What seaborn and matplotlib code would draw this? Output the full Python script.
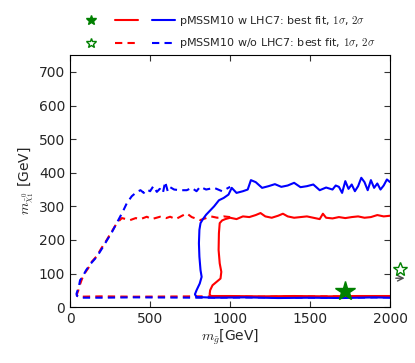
import matplotlib
matplotlib.use("Agg")
import matplotlib.pyplot as plt
import seaborn as sns
from matplotlib.lines import Line2D
from matplotlib.legend_handler import HandlerTuple

# contour paths (gluino mass, neutralino mass) in GeV
red_solid_x = [2000, 1960, 1920, 1880, 1840, 1800, 1760, 1720, 1680, 1640, 1600, 1580, 1560, 1520,
               1480, 1440, 1400, 1360, 1330, 1300, 1260, 1220, 1190, 1160, 1120, 1080, 1040, 1000,
               970, 950, 935, 930, 928, 935, 945, 940, 915, 890, 875, 872, 880, 1000, 1200, 1400,
               1600, 1800, 2000]
red_solid_y = [272, 270, 274, 268, 266, 270, 268, 265, 268, 264, 266, 278, 262, 266,
               270, 268, 266, 270, 278, 272, 266, 270, 280, 274, 268, 270, 262, 266,
               262, 258, 250, 220, 170, 130, 105, 85, 75, 65, 50, 38, 33, 33, 32, 33,
               32, 33, 33]

blue_solid_x = [2000, 1980, 1960, 1940, 1920, 1900, 1880, 1860, 1840, 1820, 1800, 1780, 1760, 1740,
                1720, 1700, 1680, 1660, 1640, 1600, 1560, 1520, 1480, 1440, 1400, 1360, 1320, 1280,
                1240, 1200, 1160, 1130, 1110, 1080, 1040, 1010, 990, 960, 930, 900, 870, 850, 830,
                815, 808, 805, 808, 815, 822, 810, 790, 780, 790, 900, 1100, 1300, 1500, 1700,
                1900, 2000]
blue_solid_y = [372, 380, 362, 350, 368, 355, 378, 348, 372, 385, 360, 345, 365, 352,
                375, 340, 358, 362, 350, 356, 348, 365, 360, 357, 370, 362, 358, 366,
                360, 355, 372, 378, 350, 345, 340, 355, 335, 325, 318, 300, 285, 275, 262,
                250, 230, 190, 150, 110, 90, 70, 50, 38, 30, 28, 29, 27, 28, 27,
                29, 28]

red_dash_x = [2000, 1600, 1200, 800, 400, 200, 60, 45, 42, 50, 62, 75, 90, 112, 135, 167, 195, 229,
              260, 292, 323, 350, 375, 410, 440, 479, 510, 540, 562, 600, 625, 660, 700, 729, 760,
              812, 850, 880, 920, 960, 1000]
red_dash_y = [31, 32, 31, 32, 31, 32, 31, 33, 38, 48, 68, 85, 100, 115, 135, 152, 175, 200,
              225, 250, 265, 262, 259, 265, 262, 269, 262, 266, 269, 265, 269, 262, 272, 279, 268,
              259, 265, 270, 266, 270, 268]

blue_dash_x = [2000, 1600, 1200, 800, 400, 200, 60, 42, 40, 55, 62, 75, 100, 130, 167, 200, 229,
               260, 300, 330, 354, 385, 417, 440, 460, 479, 500, 520, 542, 560, 580, 594, 610,
               625, 650, 687, 729, 760, 790, 812, 850, 900, 950, 1000]
blue_dash_y = [29, 28, 29, 28, 29, 28, 28, 34, 40, 62, 80, 88, 110, 130, 150, 175, 198,
               222, 258, 285, 309, 330, 343, 348, 340, 350, 345, 360, 343, 352, 340, 373, 345,
               357, 350, 348, 348, 355, 345, 358, 350, 355, 345, 358]

best_fit = (1720, 48)
best_fit_no_lhc = (2062, 113)

sns.set_style("ticks", {"xtick.direction": "in", "ytick.direction": "in"})
plt.rcParams["mathtext.fontset"] = "cm"

fig = plt.figure(figsize=(4.15, 3.63), dpi=100)
ax = fig.add_axes([0.169, 0.154, 0.771, 0.694])

DASH = (3.5, 2.5)
line_kw = dict(sort=False, estimator=None, linewidth=1.5, ax=ax, legend=False)
sns.lineplot(x=red_dash_x, y=red_dash_y, color="red", **line_kw)
ax.lines[-1].set_dashes(DASH)
sns.lineplot(x=blue_dash_x, y=blue_dash_y, color="blue", **line_kw)
ax.lines[-1].set_dashes(DASH)
sns.lineplot(x=red_solid_x, y=red_solid_y, color="red", **line_kw)
sns.lineplot(x=blue_solid_x, y=blue_solid_y, color="blue", **line_kw)

ax.plot(*best_fit, marker="*", color="green", markersize=15, linestyle="none", zorder=5)
ax.plot(*best_fit_no_lhc, marker="*", markerfacecolor="white", markeredgecolor="green",
        markersize=10, linestyle="none", clip_on=False, zorder=5)
ax.annotate("", xy=(2108, 86), xytext=(2018, 86), annotation_clip=False,
            arrowprops=dict(arrowstyle="->", color="0.3", lw=1))

ax.set_xlim(0, 2000)
ax.set_ylim(0, 750)
ax.set_xticks([0, 500, 1000, 1500, 2000])
ax.set_yticks(range(0, 701, 100))
ax.tick_params(top=True, right=True, labelsize=10, length=4, color="0.2")
for s in ax.spines.values():
    s.set_color("black")
ax.set_xlabel(r"$m_{\tilde{g}}$[GeV]", fontsize=10, labelpad=1)
ax.set_ylabel(r"$m_{\tilde{\chi}_1^0}$ [GeV]", fontsize=10, labelpad=2)

star_f = Line2D([], [], marker="*", color="green", linestyle="none", markersize=7)
star_o = Line2D([], [], marker="*", markerfacecolor="white", markeredgecolor="green",
                linestyle="none", markersize=7)
r_s = Line2D([], [], color="red", lw=1.5)
b_s = Line2D([], [], color="blue", lw=1.5)
r_d = Line2D([], [], color="red", lw=1.5, dashes=DASH)
b_d = Line2D([], [], color="blue", lw=1.5, dashes=DASH)
fig.legend([(star_f, r_s, b_s), (star_o, r_d, b_d)],
           [r"pMSSM10 w LHC7: best fit, $1\sigma$, $2\sigma$",
            r"pMSSM10 w/o LHC7: best fit, $1\sigma$, $2\sigma$"],
           handler_map={tuple: HandlerTuple(ndivide=None, pad=1.2)},
           loc="upper left", bbox_to_anchor=(0.18, 0.975), frameon=False,
           fontsize=8, handlelength=8.6, handletextpad=0.4, labelspacing=0.8,
           borderaxespad=0)

fig.savefig("out.png", dpi=100)
